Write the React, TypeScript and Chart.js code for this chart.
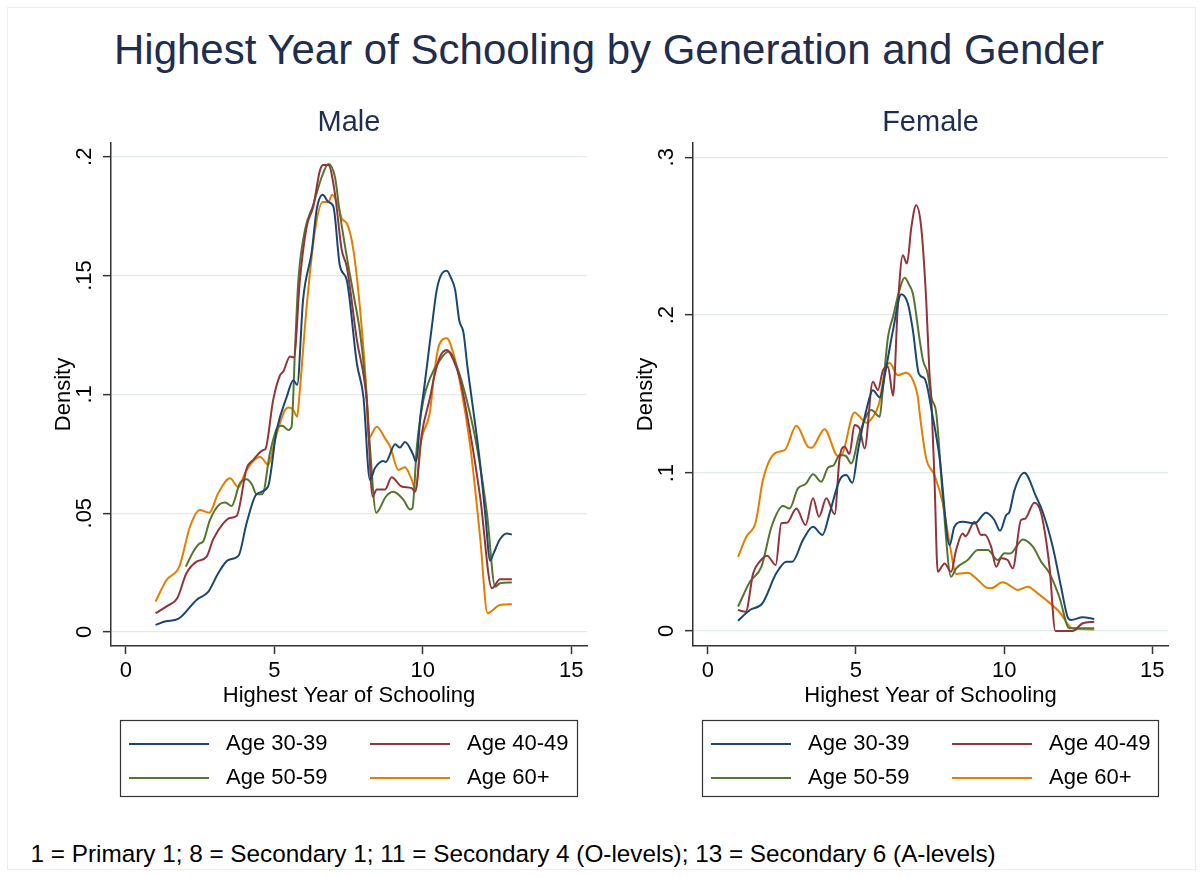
import React, { useEffect, useRef } from "react";
import { Chart, registerables } from "chart.js";

Chart.register(...registerables);

const FONT = "'Liberation Sans', Arial, Helvetica, sans-serif";
Chart.defaults.font.family = FONT;

// ---------- data ----------
const seriesLabels = ["Age 30-39", "Age 40-49", "Age 50-59", "Age 60+"];
const seriesColors = ["#1a476f", "#90353b", "#55752f", "#e37e00"];

const xTicks = [0, 5, 10, 15];
const maleYTicks = [0, 0.05, 0.1, 0.15, 0.2];
const maleYTickLabels = ["0", ".05", ".1", ".15", ".2"];
const femaleYTicks = [0, 0.1, 0.2, 0.3];
const femaleYTickLabels = ["0", ".1", ".2", ".3"];

type Pt = [number, number];

const maleAge3039: Pt[] = [
  [1.0, 0.003], [1.35, 0.0045], [1.76, 0.0055], [2.38, 0.0135], [2.78, 0.017], [3.11, 0.0247],
  [3.45, 0.0303], [3.79, 0.032], [4.07, 0.046], [4.4, 0.058], [4.78, 0.061], [5.08, 0.085],
  [5.42, 0.099], [5.64, 0.106], [5.77, 0.104], [5.97, 0.14], [6.26, 0.16], [6.43, 0.178],
  [6.63, 0.184], [6.82, 0.181], [6.99, 0.179], [7.21, 0.154], [7.44, 0.148], [7.78, 0.113],
  [8.0, 0.099], [8.22, 0.064], [8.39, 0.069], [8.67, 0.072], [8.75, 0.0715], [9.07, 0.079],
  [9.23, 0.0776], [9.4, 0.08], [9.68, 0.0745], [9.77, 0.0717], [9.93, 0.092], [10.05, 0.103],
  [10.19, 0.117], [10.3, 0.128], [10.47, 0.144], [10.65, 0.151], [10.81, 0.152], [10.95, 0.149],
  [11.09, 0.144], [11.23, 0.131], [11.37, 0.126], [11.5, 0.112], [11.65, 0.098], [11.93, 0.071],
  [12.1, 0.05], [12.27, 0.03], [12.38, 0.033], [12.6, 0.039], [12.83, 0.0415], [13.0, 0.041],
];
const maleAge4049: Pt[] = [
  [1.0, 0.0079], [1.4, 0.011], [1.73, 0.0142], [2.04, 0.0247], [2.38, 0.0296], [2.72, 0.0317],
  [2.94, 0.039], [3.28, 0.0457], [3.5, 0.048], [3.73, 0.0488], [4.07, 0.0689], [4.29, 0.0724],
  [4.63, 0.0766], [4.7, 0.077], [4.96, 0.0976], [5.19, 0.108], [5.3, 0.1096], [5.53, 0.1159],
  [5.66, 0.1156], [5.86, 0.148], [6.09, 0.1706], [6.31, 0.179], [6.54, 0.1944], [6.65, 0.1965],
  [6.82, 0.1965], [7.04, 0.1846], [7.27, 0.1608], [7.44, 0.1537], [7.78, 0.1229], [8.11, 0.0976],
  [8.31, 0.057], [8.45, 0.06], [8.73, 0.06], [8.95, 0.0651], [9.29, 0.0612], [9.63, 0.0605],
  [9.74, 0.059], [9.97, 0.0836], [10.25, 0.099], [10.36, 0.106], [10.58, 0.1159], [10.81, 0.1187],
  [11.03, 0.1145], [11.26, 0.106], [11.6, 0.0836], [11.93, 0.057], [12.33, 0.0184], [12.6, 0.0222],
  [13.0, 0.0222],
];
const maleAge5059: Pt[] = [
  [2.02, 0.0275], [2.27, 0.0338], [2.49, 0.0373], [2.6, 0.038], [2.83, 0.0471], [3.17, 0.0539],
  [3.35, 0.0545], [3.56, 0.053], [3.84, 0.0626], [4.07, 0.0643], [4.25, 0.062], [4.4, 0.058],
  [4.6, 0.058], [4.85, 0.0752], [5.13, 0.0864], [5.27, 0.0868], [5.47, 0.085], [5.58, 0.0864],
  [5.7, 0.12], [5.81, 0.148], [6.03, 0.169], [6.31, 0.1797], [6.6, 0.1916], [6.82, 0.197],
  [7.04, 0.1916], [7.21, 0.176], [7.44, 0.158], [7.66, 0.1425], [7.89, 0.1257], [8.11, 0.099],
  [8.22, 0.078], [8.43, 0.0502], [8.55, 0.052], [8.73, 0.0565], [9.01, 0.059], [9.35, 0.0556],
  [9.57, 0.0516], [9.65, 0.052], [9.8, 0.078], [10.02, 0.0976], [10.25, 0.107], [10.58, 0.1145],
  [10.87, 0.118], [11.15, 0.1117], [11.48, 0.0976], [11.82, 0.078], [12.16, 0.05], [12.44, 0.019],
  [12.6, 0.0205], [13.0, 0.0208],
];
const maleAge60: Pt[] = [
  [1.0, 0.0128], [1.37, 0.0219], [1.8, 0.0275], [2.16, 0.0443], [2.49, 0.0513], [2.81, 0.0502],
  [3.11, 0.0584], [3.51, 0.0647], [3.79, 0.0609], [4.01, 0.0668], [4.3, 0.072], [4.52, 0.0738],
  [4.8, 0.0703], [5.02, 0.0808], [5.36, 0.0934], [5.5, 0.0945], [5.64, 0.0934], [5.77, 0.0906],
  [5.84, 0.099], [6.09, 0.137], [6.37, 0.169], [6.63, 0.181], [6.82, 0.181], [6.95, 0.184],
  [7.16, 0.179], [7.27, 0.174], [7.44, 0.172], [7.66, 0.161], [7.94, 0.1285], [8.11, 0.099],
  [8.17, 0.0815], [8.45, 0.0864], [8.73, 0.0815], [8.9, 0.078], [9.18, 0.0682], [9.4, 0.0693],
  [9.6, 0.065], [9.77, 0.0598], [9.91, 0.078], [10.25, 0.0934], [10.36, 0.106], [10.53, 0.12],
  [10.81, 0.1236], [11.03, 0.1173], [11.26, 0.1047], [11.6, 0.078], [11.93, 0.04], [12.18, 0.0079],
  [12.6, 0.0114], [13.0, 0.0117],
];

const femaleAge3039: Pt[] = [
  [1.02, 0.0065], [1.42, 0.0133], [1.84, 0.0175], [2.31, 0.0365], [2.65, 0.0439], [2.85, 0.0439],
  [3.21, 0.0576], [3.55, 0.066], [3.87, 0.0608], [4.11, 0.0745], [4.45, 0.0956], [4.67, 0.0987],
  [4.88, 0.0939], [5.07, 0.1146], [5.35, 0.1399], [5.57, 0.1525], [5.8, 0.148], [6.02, 0.167],
  [6.25, 0.1905], [6.53, 0.2133], [6.75, 0.2074], [6.92, 0.1905], [7.12, 0.163], [7.31, 0.16],
  [7.4, 0.155], [7.55, 0.14], [7.82, 0.11], [8.16, 0.0544], [8.32, 0.066], [8.6, 0.0692],
  [8.94, 0.0682], [9.0, 0.068], [9.39, 0.0749], [9.67, 0.0703], [9.86, 0.0635], [10.07, 0.0734],
  [10.18, 0.0755], [10.35, 0.0892], [10.68, 0.1002], [11.08, 0.085], [11.3, 0.0755], [11.64, 0.0534],
  [11.92, 0.028], [12.14, 0.009], [12.26, 0.007], [12.65, 0.0087], [13.04, 0.0076],
];
const femaleAge4049: Pt[] = [
  [1.02, 0.0133], [1.28, 0.0122], [1.53, 0.0365], [1.75, 0.0439], [2.0, 0.0477], [2.29, 0.0418],
  [2.48, 0.0682], [2.67, 0.0685], [2.99, 0.0776], [3.3, 0.0671], [3.55, 0.084], [3.75, 0.0724],
  [4.0, 0.084], [4.28, 0.074], [4.45, 0.11], [4.62, 0.1167], [4.78, 0.112], [4.95, 0.1304],
  [5.12, 0.1283], [5.29, 0.1156], [5.57, 0.1578], [5.74, 0.1525], [5.91, 0.165], [6.08, 0.1673],
  [6.25, 0.149], [6.41, 0.2053], [6.58, 0.238], [6.72, 0.2327], [6.87, 0.2559], [7.03, 0.2696],
  [7.2, 0.2559], [7.37, 0.2095], [7.48, 0.163], [7.54, 0.148], [7.65, 0.0956], [7.76, 0.0375],
  [7.99, 0.0428], [8.21, 0.0375], [8.38, 0.0513], [8.6, 0.0618], [8.7, 0.06], [9.0, 0.0692],
  [9.22, 0.0608], [9.35, 0.061], [9.56, 0.0534], [9.73, 0.0407], [9.9, 0.046], [10.12, 0.0449],
  [10.29, 0.0397], [10.57, 0.0703], [10.7, 0.071], [11.02, 0.0812], [11.25, 0.0745], [11.53, 0.0407],
  [11.73, 0.0], [12.31, 0.0], [12.65, 0.0049], [13.04, 0.0059],
];
const femaleAge5059: Pt[] = [
  [1.02, 0.0154], [1.42, 0.0312], [1.81, 0.0407], [2.15, 0.066], [2.54, 0.0791], [2.76, 0.0775],
  [3.04, 0.0903], [3.3, 0.093], [3.55, 0.0992], [3.83, 0.0945], [4.06, 0.1036], [4.25, 0.105],
  [4.45, 0.1114], [4.65, 0.111], [4.84, 0.1061], [5.12, 0.1251], [5.52, 0.1399], [5.8, 0.1356],
  [5.9, 0.152], [6.08, 0.186], [6.25, 0.199], [6.47, 0.216], [6.64, 0.2236], [6.8, 0.219],
  [6.92, 0.2137], [7.15, 0.1842], [7.26, 0.1715], [7.42, 0.163], [7.54, 0.148], [7.71, 0.1378],
  [7.93, 0.085], [8.21, 0.0344], [8.38, 0.0397], [8.77, 0.0449], [9.11, 0.0513], [9.45, 0.0513],
  [9.78, 0.0449], [10.01, 0.0492], [10.2, 0.049], [10.63, 0.058], [10.97, 0.0534], [11.25, 0.0439],
  [11.53, 0.0365], [11.86, 0.0217], [12.2, 0.0017], [13.04, 0.0017],
];
const femaleAge60: Pt[] = [
  [1.02, 0.047], [1.3, 0.0597], [1.62, 0.0692], [1.86, 0.0956], [2.26, 0.1125], [2.6, 0.1146],
  [2.99, 0.13], [3.38, 0.1167], [3.5, 0.116], [3.94, 0.1278], [4.39, 0.1108], [4.5, 0.111],
  [4.95, 0.1384], [5.18, 0.1346], [5.35, 0.1319], [5.57, 0.1356], [5.78, 0.1441], [5.93, 0.16],
  [6.13, 0.1698], [6.41, 0.162], [6.7, 0.1635], [6.92, 0.1589], [7.09, 0.148], [7.15, 0.1378],
  [7.37, 0.1093], [7.65, 0.0987], [7.93, 0.0808], [8.16, 0.0555], [8.38, 0.0361], [8.6, 0.0365],
  [8.77, 0.0369], [9.11, 0.0323], [9.39, 0.0276], [9.55, 0.027], [9.95, 0.0308], [10.29, 0.0276],
  [10.45, 0.026], [10.8, 0.028], [11.13, 0.0238], [11.42, 0.0196], [11.86, 0.0122], [12.31, 0.0017],
  [13.04, 0.001],
];

const maleSeries = [maleAge3039, maleAge4049, maleAge5059, maleAge60];
const femaleSeries = [femaleAge3039, femaleAge4049, femaleAge5059, femaleAge60];

// ---------- helpers ----------
function lineSwatch(color: string): HTMLCanvasElement {
  const c = document.createElement("canvas");
  c.width = 80;
  c.height = 2;
  const g = c.getContext("2d");
  if (g) {
    g.fillStyle = color;
    g.fillRect(0, 0, 80, 2);
  }
  return c;
}

const legendFrame = {
  id: "legendFrame",
  afterDraw(chart: any) {
    const lg = chart.legend;
    const ca = chart.chartArea;
    if (!lg || !ca) return;
    const ctx = chart.ctx;
    ctx.save();
    ctx.strokeStyle = "#333333";
    ctx.lineWidth = 1.2;
    ctx.strokeRect(ca.left + 9.5, lg.top - 0.5, ca.right - ca.left - 19, 76);
    ctx.restore();
  },
};

type PanelProps = {
  title: string;
  series: Pt[][];
  yTicks: number[];
  yTickLabels: string[];
  yMin: number;
  yMax: number;
  yTickPad: number;
  left: number;
  width: number;
};

function Panel({ title, series, yTicks, yTickLabels, yMin, yMax, yTickPad, left, width }: PanelProps) {
  const ref = useRef<HTMLCanvasElement | null>(null);

  useEffect(() => {
    if (!ref.current) return;
    const axisColor = "#333333";
    const chart = new Chart(ref.current, {
      type: "line",
      data: {
        datasets: series.map((pts, i) => ({
          label: seriesLabels[i],
          data: pts.map(([x, y]) => ({ x, y })),
          borderColor: seriesColors[i],
          backgroundColor: seriesColors[i],
          borderWidth: 2,
          pointRadius: 0,
          pointHoverRadius: 0,
          pointStyle: lineSwatch(seriesColors[i]) as any,
          fill: false,
          cubicInterpolationMode: "monotone" as const,
        })),
      },
      options: {
        animation: false,
        responsive: false,
        maintainAspectRatio: false,
        events: [],
        layout: { padding: { left: 40, right: 13, top: 0, bottom: 11 } },
        plugins: {
          title: {
            display: true,
            text: title,
            fullSize: false,
            color: "#1f2d4e",
            font: { family: FONT, size: 29, weight: "normal" },
            padding: { top: 15.6, bottom: 2.6 },
          },
          legend: {
            display: true,
            position: "bottom",
            fullSize: false,
            align: "start",
            labels: {
              usePointStyle: true,
              pointStyleWidth: 92,
              padding: 12,
              color: "#000000",
              font: { family: FONT, size: 22 },
              generateLabels: (c: any) =>
                (Chart.defaults.plugins.legend.labels as any)
                  .generateLabels(c)
                  .map((item: any, i: number) => ({
                    ...item,
                    text: i % 2 === 0 ? item.text + "\u00a0\u00a0\u00a0\u00a0" : item.text,
                  })),
            },
          },
          tooltip: { enabled: false },
        },
        scales: {
          x: {
            type: "linear",
            min: -0.5,
            max: 15.53,
            afterBuildTicks: (s: any) => {
              s.ticks = xTicks.map((v) => ({ value: v }));
            },
            afterFit: (s: any) => {
              s.height = 75;
            },
            ticks: {
              color: "#000000",
              font: { family: FONT, size: 22 },
              padding: 4,
              maxRotation: 0,
              minRotation: 0,
              callback: (v: any) => String(v),
            },
            grid: {
              drawOnChartArea: false,
              drawTicks: true,
              tickLength: 8,
              tickColor: axisColor,
              tickWidth: 1.5,
            },
            border: { color: axisColor, width: 1.5 },
            title: {
              display: true,
              text: "Highest Year of Schooling",
              color: "#000000",
              font: { family: FONT, size: 22 },
              padding: { top: 0, bottom: 11.8 },
            },
          },
          y: {
            type: "linear",
            min: yMin,
            max: yMax,
            afterBuildTicks: (s: any) => {
              s.ticks = yTicks.map((v) => ({ value: v }));
            },
            afterFit: (s: any) => {
              s.width = 71;
            },
            ticks: {
              color: "#000000",
              font: { family: FONT, size: 22 },
              minRotation: 90,
              maxRotation: 90,
              crossAlign: "center",
              padding: yTickPad,
              callback: (v: any) => {
                const idx = yTicks.findIndex((t) => Math.abs(t - v) < 1e-9);
                return idx >= 0 ? yTickLabels[idx] : "";
              },
            },
            grid: {
              color: "#e3eaee",
              lineWidth: 1.3,
              drawTicks: true,
              tickLength: 8,
              tickColor: axisColor,
              tickWidth: 1.5,
            },
            border: { color: axisColor, width: 1.5 },
            title: {
              display: true,
              text: "Density",
              color: "#000000",
              font: { family: FONT, size: 22 },
              padding: { top: 10.5, bottom: 0 },
            },
          },
        },
      } as any,
      plugins: [legendFrame],
    });
    return () => chart.destroy();
  }, []);

  return (
    <canvas
      ref={ref}
      width={width}
      height={720}
      style={{ position: "absolute", left, top: 90, width, height: 720 }}
    />
  );
}

export default function App() {
  return (
    <div
      style={{
        position: "absolute",
        left: 0,
        top: 0,
        width: 1203,
        height: 877,
        overflow: "hidden",
        background: "#ffffff",
        fontFamily: FONT,
      }}
    >
      <div
        style={{
          position: "absolute",
          left: 7,
          top: 7,
          width: 1189,
          height: 863,
          border: "1px solid #ececec",
          boxSizing: "border-box",
        }}
      />
      <div
        style={{
          position: "absolute",
          left: 9,
          top: 29.4,
          width: 1200,
          textAlign: "center",
          fontSize: 42,
          lineHeight: "42px",
          color: "#1f2d4e",
          whiteSpace: "nowrap",
        }}
      >
        Highest Year of Schooling by Generation and Gender
      </div>
      <Panel
        title="Male"
        series={maleSeries}
        yTicks={maleYTicks}
        yTickLabels={maleYTickLabels}
        yMin={-0.0059}
        yMax={0.2058}
        yTickPad={3.2}
        left={0}
        width={600}
      />
      <Panel
        title="Female"
        series={femaleSeries}
        yTicks={femaleYTicks}
        yTickLabels={femaleYTickLabels}
        yMin={-0.0095}
        yMax={0.309}
        yTickPad={9.3}
        left={582}
        width={599}
      />
      <div
        style={{
          position: "absolute",
          left: 30.5,
          top: 841.7,
          fontSize: 24.3,
          lineHeight: "24px",
          color: "#000000",
          whiteSpace: "nowrap",
        }}
      >
        1 = Primary 1; 8 = Secondary 1; 11 = Secondary 4 (O-levels); 13 = Secondary 6 (A-levels)
      </div>
    </div>
  );
}
